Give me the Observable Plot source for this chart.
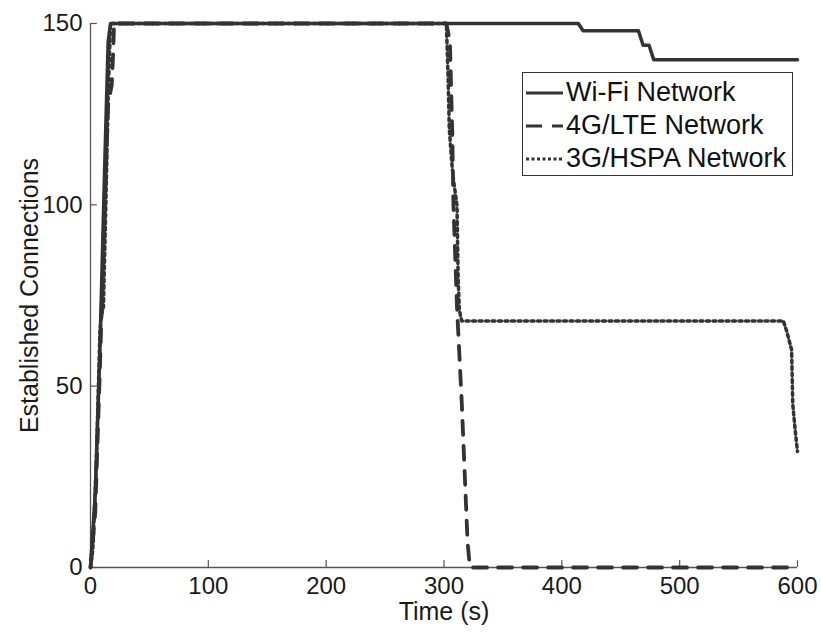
<!DOCTYPE html>
<html>
<head>
<meta charset="utf-8">
<script src="https://cdn.jsdelivr.net/npm/d3@7"></script>
<script src="https://cdn.jsdelivr.net/npm/@observablehq/plot@0.6"></script>
<style>
  html, body { margin: 0; padding: 0; background: #fff; }
  #wrap { position: relative; width: 821px; height: 635px; font-family: "Liberation Sans", Arial, Helvetica, sans-serif; }
  #legend { position: absolute; left: 522px; top: 72px; width: 271px; height: 104px; border: 1px solid #333; background: #fff; box-sizing: border-box; padding-top: 3px; }
  .row { display: flex; align-items: center; height: 33px; font-size: 27px; color: #111; white-space: nowrap; }
  .row svg { margin-left: 3px; margin-right: 3px; }
</style>
</head>
<body>
<div id="wrap">
  <div id="chart"></div>
  <div id="legend"></div>
</div>
<script>
// Series names
const seriesNames = ["Wi-Fi Network", "4G/LTE Network", "3G/HSPA Network"];

// Wi-Fi Network
const wifiTime = [0, 4, 8, 12, 15, 17, 414, 418, 465, 469, 474, 478, 600];
const wifiConn = [0, 20, 60, 110, 145, 150, 150, 148, 148, 144, 144, 140, 140];

// 4G/LTE Network
const lteTime = [0, 4, 8, 12, 15, 18, 19, 19.5, 20, 302, 305, 307, 308, 311, 315, 320, 322, 600];
const lteConn = [0, 15, 55, 100, 128, 133, 140, 145, 150, 150, 145, 120, 100, 72, 46, 7, 0, 0];

// 3G/HSPA Network
const hspaTime = [0, 2, 5, 8, 9, 11, 13, 15, 17, 302, 303.5, 304.5, 306.5, 308, 311, 312, 313, 315, 588, 591, 595, 596, 598, 600];
const hspaConn = [0, 5, 30, 65, 69, 72, 100, 130, 150, 150, 135, 121, 112, 107, 100, 80, 71, 68, 68, 65, 60, 45, 38, 32];

// Tick labels
const xTicks = [0, 100, 200, 300, 400, 500, 600];
const yTicks = [0, 50, 100, 150];

const toRows = (t, v) => t.map((d, i) => ({t: d, v: v[i]}));
const wifi = toRows(wifiTime, wifiConn);
const lte = toRows(lteTime, lteConn);
const hspa = toRows(hspaTime, hspaConn);

const lineColor = "#333";

const chart = Plot.plot({
  width: 821,
  height: 635,
  marginLeft: 90,
  marginRight: 24,
  marginTop: 23,
  marginBottom: 68,
  style: {fontFamily: '"Liberation Sans", Arial, Helvetica, sans-serif', color: "#1a1a1a", background: "#fff"},
  x: {domain: [0, 600]},
  y: {domain: [0, 150]},
  marks: [
    Plot.ruleX([0], {stroke: "#555", strokeWidth: 1.3}),
    Plot.ruleY([0], {stroke: "#555", strokeWidth: 1.3}),
    Plot.ruleX(xTicks, {y1: 0, y2: 1.9, stroke: "#555", strokeWidth: 1.2}),
    Plot.ruleY(yTicks, {x1: 0, x2: 5.8, stroke: "#555", strokeWidth: 1.2}),
    Plot.axisX({ticks: xTicks, tickSize: 0, tickPadding: 9, fontSize: 24, label: "Time (s)", labelAnchor: "center", labelArrow: "none", labelOffset: 52}),
    Plot.axisY({ticks: yTicks, tickSize: 0, tickPadding: 8, fontSize: 24, label: "Established Connections", labelAnchor: "center", labelArrow: "none", labelOffset: 70}),
    Plot.line(wifi, {x: "t", y: "v", stroke: lineColor, strokeWidth: 3.5, strokeLinejoin: "round"}),
    Plot.line(lte, {x: "t", y: "v", stroke: lineColor, strokeWidth: 3.8, strokeDasharray: "14,11"}),
    Plot.line(hspa, {x: "t", y: "v", stroke: lineColor, strokeWidth: 3.5, strokeDasharray: "3,3.5"})
  ]
});
chart.querySelectorAll("g[aria-label='x-axis label'] text, g[aria-label='y-axis label'] text").forEach(t => t.setAttribute("font-size", "25"));
document.getElementById("chart").appendChild(chart);

// Legend
const legend = document.getElementById("legend");
const dashes = [null, "16,10", "3,2.5"];
seriesNames.forEach((name, i) => {
  const row = document.createElement("div");
  row.className = "row";
  const ns = "http://www.w3.org/2000/svg";
  const s = document.createElementNS(ns, "svg");
  s.setAttribute("width", 37); s.setAttribute("height", 10);
  const l = document.createElementNS(ns, "line");
  l.setAttribute("x1", 0); l.setAttribute("x2", 37); l.setAttribute("y1", 5); l.setAttribute("y2", 5);
  l.setAttribute("stroke", lineColor); l.setAttribute("stroke-width", 3);
  if (dashes[i]) l.setAttribute("stroke-dasharray", dashes[i]);
  s.appendChild(l);
  row.appendChild(s);
  const span = document.createElement("span");
  span.textContent = name;
  row.appendChild(span);
  legend.appendChild(row);
});
</script>
</body>
</html>
